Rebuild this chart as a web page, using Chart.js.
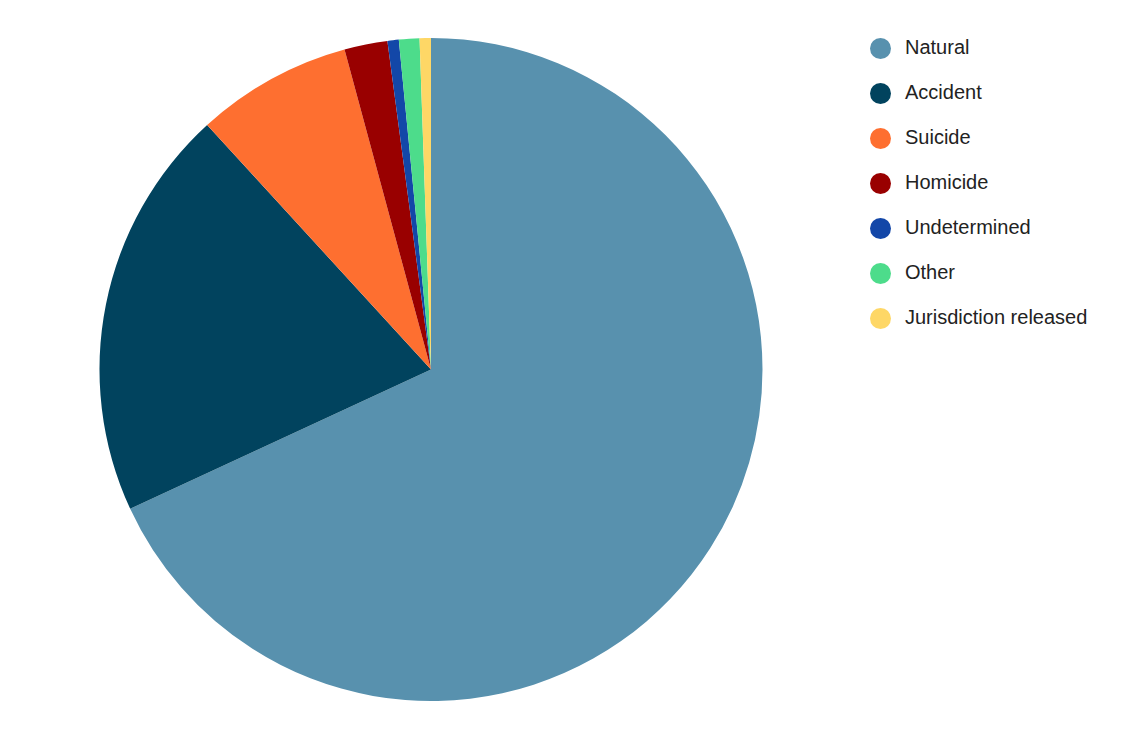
<!DOCTYPE html>
<html>
<head>
<meta charset="utf-8">
<script src="https://cdn.jsdelivr.net/npm/chart.js@4"></script>
<style>
  body { margin: 0; background: #fff; font-family: "Liberation Sans", Arial, sans-serif; }
  #wrap { position: absolute; left: 0; top: 0; width: 862px; height: 739px; }
  #legend { position: absolute; left: 870px; top: 36px; list-style: none; margin: 0; padding: 0; }
  #legend li { height: 45px; display: flex; align-items: flex-start; font-size: 20px; color: #222; }
  #legend span.dot { width: 21px; height: 21px; border-radius: 50%; margin-right: 14px; margin-top: 2px; }
</style>
</head>
<body>
<div id="wrap"><canvas id="pie"></canvas></div>
<ul id="legend"></ul>
<script>
const categories = ['Natural', 'Accident', 'Suicide', 'Homicide', 'Undetermined', 'Other', 'Jurisdiction released'];
const shares = [68.1, 20.1, 7.6, 2.1, 0.55, 1.0, 0.55];
const colors = ['#5891ae', '#01435e', '#fe6f30', '#990000', '#1347a8', '#4ddc8b', '#fed766'];

new Chart(document.getElementById('pie').getContext('2d'), {
    type: 'pie',
    data: { labels: categories, datasets: [{ data: shares, backgroundColor: colors, borderWidth: 0 }] },
    options: {
        animation: false,
        responsive: true,
        maintainAspectRatio: false,
        layout: { padding: 38 },
        plugins: { legend: { display: false }, tooltip: { enabled: false } }
    }
});

const legend = document.getElementById('legend');
categories.forEach((c, i) => {
    const li = document.createElement('li');
    li.innerHTML = '<span class="dot" style="background:' + colors[i] + '"></span>' + c;
    legend.appendChild(li);
});
</script>
</body>
</html>
